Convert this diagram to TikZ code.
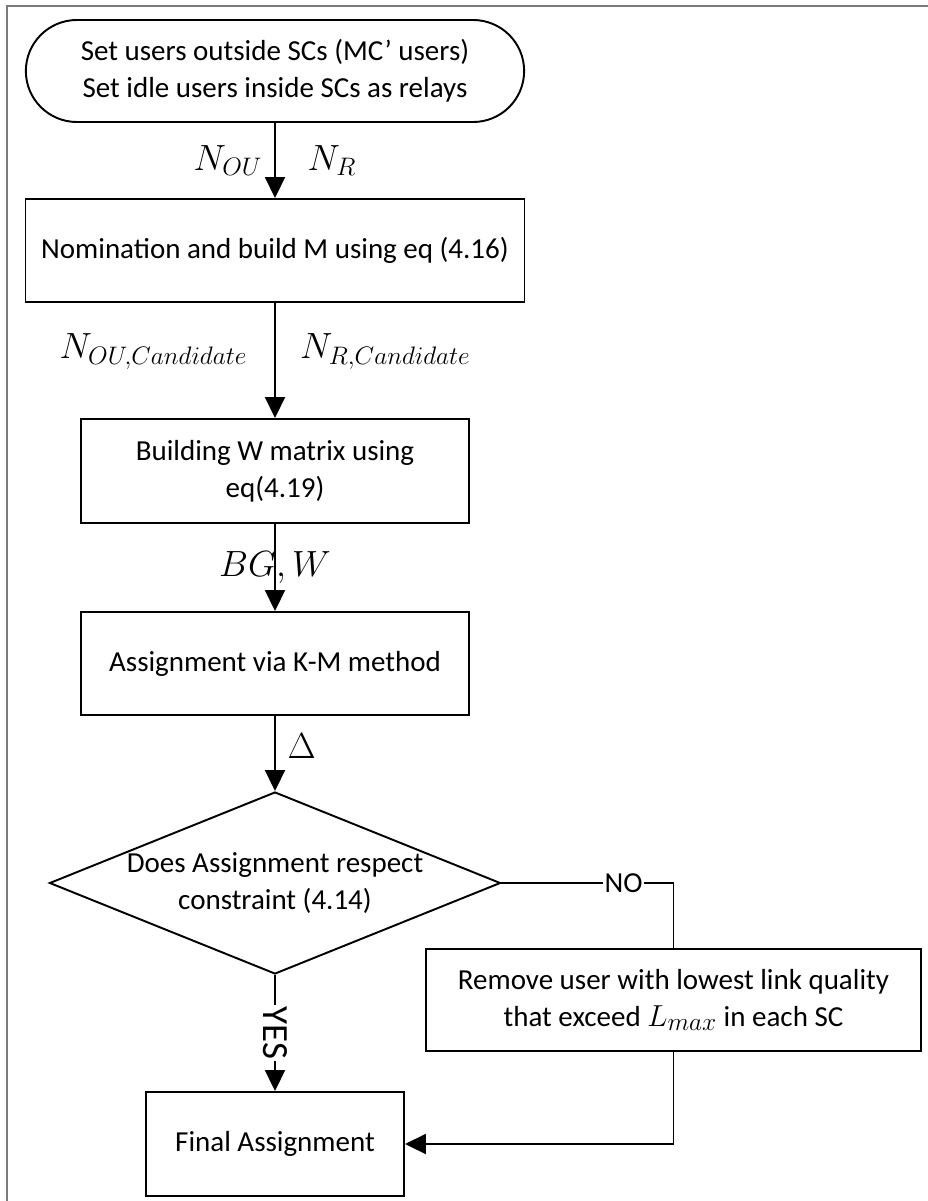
\documentclass[tikz,border=0pt]{standalone}
\usepackage{fontspec}
\setmainfont{Carlito}
\DeclareMathSizes{20}{20}{15.5}{12}
\DeclareMathSizes{18}{18}{14}{11}
\definecolor{framegray}{HTML}{7A7A7A}
\usetikzlibrary{shapes.geometric,shapes.misc,arrows.meta,positioning}
\newcommand{\lblsize}{\fontsize{20}{24}\selectfont}
\newcommand{\inlsize}{\fontsize{18}{21}\selectfont}

\begin{document}
\begin{tikzpicture}[
  x=0.2mm, y=-0.2mm, line width=1.1pt,
  font=\fontsize{16.5}{21}\selectfont,
  proc/.style={draw, align=center, inner sep=2pt},
  term/.style={draw, rounded rectangle, align=center,
    minimum width=102mm, minimum height=20.4mm},
  decide/.style={draw, diamond, aspect=2.48, inner sep=0pt, align=center,
    minimum width=90.2mm, minimum height=36.4mm},
  arr/.style={-{Triangle[length=4.2mm,width=4mm]}},
  lbl/.style={font=\lblsize, inner sep=1pt},
  tag/.style={fill=white, inner sep=1pt}
]
  \useasboundingbox (0,0) rectangle (928,1201);
  \draw[framegray, line width=1pt] (928,6) -- (7,6) -- (7,1201);

  \node[term] (start) at (275,71) {Set users outside SCs (MC’ users)\\Set idle users inside SCs as relays};
  \node[proc, minimum width=99.8mm, minimum height=20.6mm] (nom) at (275,250.5) {Nomination and build M using eq (4.16)};
  \node[proc, minimum width=77.6mm, minimum height=20.8mm] (wmat) at (275,471) {Building W matrix using\\eq(4.19)};
  \node[proc, minimum width=77.6mm, minimum height=20.6mm] (km) at (275,663.5) {Assignment via K-M method};
  \node[decide] (check) at (275,883) {Does Assignment respect\\constraint (4.14)};
  \node[proc, minimum width=99mm, minimum height=20.4mm] (remove) at (673.5,1000) {Remove user with lowest link quality\\that exceed {\inlsize$L_{max}$} in each SC};
  \node[proc, minimum width=51.6mm, minimum height=20.8mm] (final) at (275,1144) {Final Assignment};

  \draw[arr] (start) -- node[lbl, midway, left=2mm] {$N_{OU}$} node[lbl, midway, right=6mm] {$N_R$} (nom);
  \draw[arr] (nom) -- node[lbl, pos=0.42, left=5mm] {$N_{OU,Candidate}$} node[lbl, pos=0.42, right=4.5mm] {$N_{R,Candidate}$} (wmat);
  \draw[arr] (wmat) -- node[lbl, pos=0.5] {$BG,W$} (km);
  \draw[arr] (km) -- node[lbl, pos=0.4, right=2mm] {$\Delta$} (check);
  \draw[arr] (check) -- node[tag, font=\fontsize{21}{24}\selectfont, pos=0.5, rotate=-90] {YES} (final);
  \draw (check.east) -- node[tag, pos=0.71] {NO} (check.east -| remove.north) -- (remove.north);
  \draw[arr] (remove.south) |- (final.east);
\end{tikzpicture}
\end{document}
